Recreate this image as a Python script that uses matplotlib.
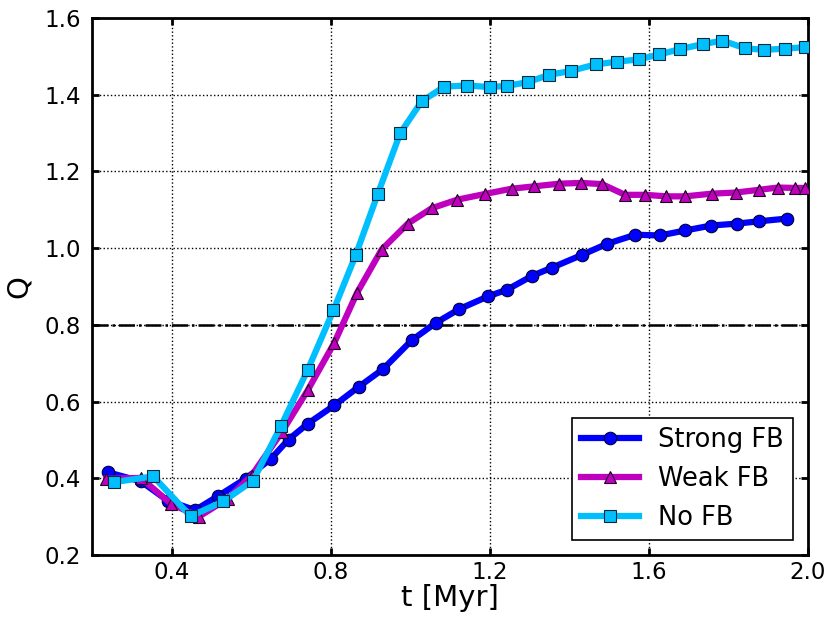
import matplotlib
matplotlib.use("Agg")
import matplotlib.pyplot as plt

strong_t = [0.239, 0.323, 0.390, 0.459, 0.516, 0.586, 0.650, 0.694, 0.742, 0.809, 0.870, 0.932,
            1.004, 1.064, 1.123, 1.195, 1.244, 1.307, 1.356, 1.431, 1.494, 1.566, 1.628, 1.691,
            1.757, 1.822, 1.877, 1.946]
strong_q = [0.416, 0.392, 0.342, 0.317, 0.353, 0.399, 0.451, 0.501, 0.542, 0.590, 0.638, 0.685,
            0.760, 0.805, 0.841, 0.874, 0.892, 0.928, 0.949, 0.982, 1.011, 1.035, 1.033, 1.046,
            1.059, 1.064, 1.070, 1.077]

weak_t = [0.236, 0.323, 0.398, 0.469, 0.541, 0.601, 0.677, 0.742, 0.809, 0.866, 0.928, 0.994,
          1.054, 1.117, 1.187, 1.255, 1.311, 1.374, 1.430, 1.482, 1.540, 1.591, 1.644, 1.691,
          1.758, 1.819, 1.876, 1.925, 1.968, 1.992]
weak_q = [0.399, 0.401, 0.334, 0.300, 0.347, 0.407, 0.520, 0.629, 0.753, 0.883, 0.996, 1.064,
          1.104, 1.126, 1.141, 1.155, 1.161, 1.168, 1.170, 1.167, 1.139, 1.139, 1.135, 1.135,
          1.142, 1.145, 1.152, 1.158, 1.157, 1.157]

nofb_t = [0.256, 0.354, 0.448, 0.530, 0.605, 0.675, 0.742, 0.807, 0.863, 0.918, 0.975, 1.029,
          1.086, 1.142, 1.200, 1.244, 1.296, 1.350, 1.404, 1.466, 1.519, 1.574, 1.626, 1.679,
          1.736, 1.785, 1.842, 1.890, 1.943, 1.992]
nofb_q = [0.390, 0.405, 0.301, 0.340, 0.394, 0.536, 0.682, 0.838, 0.982, 1.140, 1.300, 1.383,
          1.421, 1.424, 1.420, 1.423, 1.433, 1.452, 1.462, 1.479, 1.486, 1.492, 1.505, 1.519,
          1.532, 1.541, 1.521, 1.517, 1.520, 1.524]

q_crit = 0.8
xticks = [0.4, 0.8, 1.2, 1.6, 2.0]
yticks = [0.2, 0.4, 0.6, 0.8, 1.0, 1.2, 1.4, 1.6]

fig = plt.figure(figsize=(8.3, 6.23), dpi=100)
ax = fig.add_axes([92/830, 1 - 555/623, (808-92)/830, (555-18)/623])

ax.plot(strong_t, strong_q, '-o', color='#0000ff', lw=4.5, ms=9,
        mec='#000033', mew=0.8, label='Strong FB', zorder=3)
ax.plot(weak_t, weak_q, '-^', color='#bf00bf', lw=4.5, ms=9,
        mec='#200020', mew=0.8, label='Weak FB', zorder=4)
ax.plot(nofb_t, nofb_q, '-s', color='#00bfff', lw=4.5, ms=9,
        mec='#0a2a3a', mew=0.8, label='No FB', zorder=5)

ax.axhline(q_crit, color='k', ls='-.', lw=1.8, zorder=2)

ax.set_xlim(0.2, 2.0)
ax.set_ylim(0.2, 1.6)
ax.set_xticks(xticks)
ax.set_yticks(yticks)
ax.set_xticklabels(['%.1f' % v for v in xticks])
ax.set_yticklabels(['%.1f' % v for v in yticks])
ax.grid(True, color='k', ls=':', lw=1.0)
ax.tick_params(direction='in', top=True, right=True, length=5, width=2, labelsize=16.5)
ax.tick_params(axis='x', pad=4)
ax.tick_params(axis='y', pad=8)
for s in ax.spines.values():
    s.set_linewidth(2)
ax.set_xlabel('t [Myr]', fontsize=21, labelpad=0)
ax.set_ylabel('Q', fontsize=21, labelpad=8)

leg = ax.legend(loc='lower right', fontsize=18.5, numpoints=1, fancybox=False,
                edgecolor='k', framealpha=1, handlelength=2.25, borderpad=0.35,
                labelspacing=0.5, handletextpad=0.75, borderaxespad=0.6)
leg.get_frame().set_linewidth(1.2)

fig.savefig('out.png', dpi=100)
